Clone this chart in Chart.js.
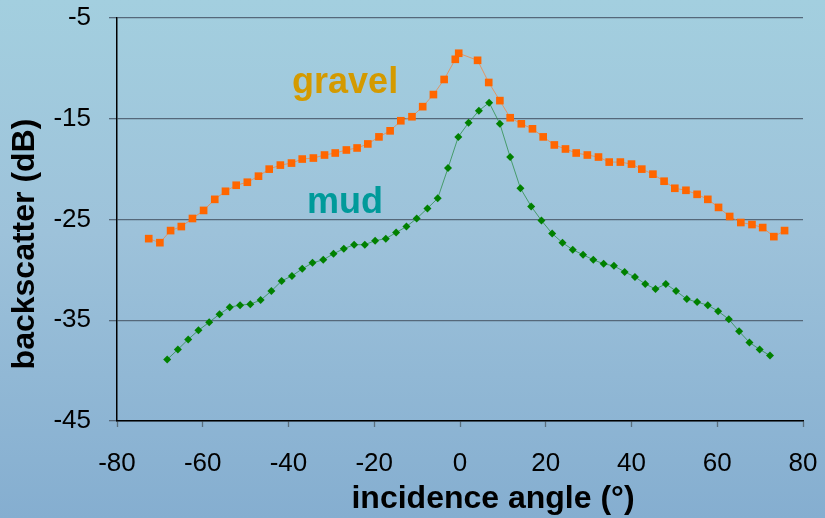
<!DOCTYPE html>
<html>
<head>
<meta charset="utf-8">
<script src="https://cdn.jsdelivr.net/npm/chart.js@4.4.1/dist/chart.umd.min.js"></script>
<style>
    html, body { margin: 0; padding: 0; background: #9fc4dc; }
    #wrap { width: 825px; height: 518px; position: relative; }
</style>
</head>
<body>
<div id="wrap"><canvas id="backscatterChart" width="825" height="518"></canvas></div>
<script>
// Data
const gravelAngle = [-72.6, -70.0, -67.5, -65.0, -62.4, -59.8, -57.2, -54.7, -52.2, -49.6,
    -47.0, -44.5, -41.9, -39.3, -36.8, -34.2, -31.6, -29.1, -26.5, -24.0,
    -21.5, -18.9, -16.3, -13.8, -11.2, -8.7, -6.2, -3.7, -1.1, -0.3,
    4.1, 6.7, 9.3, 11.7, 14.3, 16.9, 19.4, 22.0, 24.6, 27.1,
    29.7, 32.3, 34.8, 37.4, 40.0, 42.4, 45.0, 47.6, 50.1, 52.7,
    55.3, 57.8, 60.3, 62.9, 65.5, 68.1, 70.6, 73.2, 75.7];
const gravelDb = [-26.9, -27.3, -26.1, -25.7, -24.9, -24.1, -23.0, -22.2, -21.6, -21.3,
    -20.7, -20.0, -19.6, -19.4, -19.0, -18.9, -18.6, -18.4, -18.1, -17.9,
    -17.5, -16.8, -16.2, -15.2, -14.8, -13.8, -12.6, -11.1, -9.1, -8.5,
    -9.2, -11.4, -13.2, -14.9, -15.5, -16.0, -16.8, -17.6, -18.0, -18.4,
    -18.6, -18.8, -19.3, -19.3, -19.5, -20.0, -20.5, -21.2, -21.9, -22.1,
    -22.5, -23.0, -23.8, -24.7, -25.3, -25.5, -25.8, -26.7, -26.1];

const mudAngle = [-68.3, -65.8, -63.4, -61.0, -58.5, -56.1, -53.7, -51.3, -48.9, -46.5,
    -44.0, -41.6, -39.2, -36.8, -34.4, -31.9, -29.5, -27.1, -24.7, -22.2,
    -19.8, -17.3, -14.9, -12.5, -10.1, -7.6, -5.2, -2.8, -0.4, 2.0,
    4.4, 6.8, 9.3, 11.7, 14.1, 16.6, 19.0, 21.5, 23.9, 26.3,
    28.7, 31.1, 33.5, 35.9, 38.4, 40.8, 43.2, 45.6, 48.0, 50.4,
    52.9, 55.3, 57.8, 60.2, 62.7, 65.1, 67.5, 69.9, 72.3];
const mudDb = [-38.9, -37.9, -36.9, -36.0, -35.2, -34.4, -33.7, -33.5, -33.4, -33.0,
    -32.1, -31.1, -30.6, -29.9, -29.3, -29.0, -28.4, -27.9, -27.5, -27.5,
    -27.1, -26.9, -26.3, -25.7, -24.9, -23.9, -22.9, -19.9, -16.8, -15.4,
    -14.2, -13.4, -15.5, -18.8, -21.9, -23.7, -25.1, -26.4, -27.3, -28.0,
    -28.5, -29.0, -29.4, -29.6, -30.2, -30.7, -31.4, -31.9, -31.4, -32.1,
    -32.9, -33.2, -33.5, -34.1, -34.9, -36.1, -37.2, -37.9, -38.5];

const xTicks = [-80, -60, -40, -20, 0, 20, 40, 60, 80];
const yTicks = [-45, -35, -25, -15, -5];

// in-plot labels: text, angle, dB (baseline)
const seriesLabels = [
    { text: 'gravel', x: -26.8, y: -12.45, color: '#d49a00' },
    { text: 'mud', x: -26.8, y: -24.4, color: '#009a9a' }
];

const xTitle = 'incidence angle (°)';
const yTitle = 'backscatter (dB)';

const FONT = "'Liberation Sans', Arial, sans-serif";

function toPoints(xs, ys) {
    return xs.map((x, i) => ({ x: x, y: ys[i] }));
}

// Background wash, roughly the water picture behind the chart
const backgroundPlugin = {
    id: 'waterBackground',
    beforeDraw(chart) {
        const ctx = chart.ctx;
        const g = ctx.createLinearGradient(0, 0, 0, chart.height);
        g.addColorStop(0, '#a3cfdf');
        g.addColorStop(0.45, '#9dc2da');
        g.addColorStop(1, '#85aed0');
        ctx.save();
        ctx.fillStyle = g;
        ctx.fillRect(0, 0, chart.width, chart.height);
        ctx.restore();
    }
};

const labelPlugin = {
    id: 'seriesLabels',
    afterDatasetsDraw(chart) {
        const ctx = chart.ctx;
        const xs = chart.scales.x;
        const ys = chart.scales.y;
        ctx.save();
        ctx.font = 'bold 36px ' + FONT;
        ctx.textAlign = 'center';
        ctx.textBaseline = 'alphabetic';
        seriesLabels.forEach(l => {
            ctx.fillStyle = l.color;
            ctx.fillText(l.text, xs.getPixelForValue(l.x), ys.getPixelForValue(l.y));
        });
        ctx.restore();
    }
};

// Axis titles sit off-centre in the original, so draw them by hand
const axisTitlePlugin = {
    id: 'axisTitles',
    afterDraw(chart) {
        const ctx = chart.ctx;
        const area = chart.chartArea;
        ctx.save();
        ctx.fillStyle = '#000';
        ctx.font = 'bold 32px ' + FONT;
        ctx.textAlign = 'center';
        ctx.textBaseline = 'middle';
        ctx.fillText(xTitle, area.left + 376, chart.height - 19);
        ctx.translate(25, area.top + 226);
        ctx.rotate(-Math.PI / 2);
        ctx.fillText(yTitle, 0, 0);
        ctx.restore();
    }
};

const ctx = document.getElementById('backscatterChart').getContext('2d');
const chart = new Chart(ctx, {
    type: 'scatter',
    data: {
        datasets: [
            {
                label: 'mud',
                data: toPoints(mudAngle, mudDb),
                showLine: true,
                borderColor: 'rgba(40,140,70,0.75)',
                borderWidth: 1,
                pointStyle: 'rectRot',
                pointRadius: 4,
                pointBackgroundColor: '#008000',
                pointBorderColor: '#008000',
                pointBorderWidth: 0
            },
            {
                label: 'gravel',
                data: toPoints(gravelAngle, gravelDb),
                showLine: true,
                borderColor: 'rgba(235,140,80,0.85)',
                borderWidth: 1,
                pointStyle: 'rect',
                pointRadius: 5.4,
                pointBackgroundColor: '#ff6600',
                pointBorderColor: '#ff6600',
                pointBorderWidth: 0
            }
        ]
    },
    options: {
        responsive: false,
        animation: false,
        layout: { padding: { top: 18, right: 22, left: 0, bottom: 0 } },
        plugins: {
            legend: { display: false },
            tooltip: { enabled: false }
        },
        scales: {
            x: {
                type: 'linear',
                min: -80,
                max: 80,
                afterBuildTicks: s => { s.ticks = xTicks.map(v => ({ value: v })); },
                afterFit: s => {
                    s.height = 97;
                    s.paddingLeft = 0;
                    s.paddingRight = 0;
                },
                grid: {
                    drawOnChartArea: false,
                    drawTicks: true,
                    tickLength: 6,
                    tickColor: '#5a6e7c',
                    tickWidth: 1.3
                },
                border: { display: true, color: '#000', width: 1.5 },
                ticks: {
                    color: '#000',
                    padding: 21,
                    maxRotation: 0,
                    font: { family: FONT, size: 26 }
                },
                title: { display: false }
            },
            y: {
                type: 'linear',
                min: -45,
                max: -5,
                afterBuildTicks: s => { s.ticks = yTicks.map(v => ({ value: v })); },
                afterFit: s => {
                    s.width = 117;
                    s.paddingTop = 0;
                    s.paddingBottom = 0;
                },
                grid: {
                    color: '#55687a',
                    lineWidth: 1.3,
                    drawTicks: true,
                    tickLength: 8
                },
                border: { display: true, color: '#000', width: 1.5 },
                ticks: {
                    color: '#000',
                    padding: 18,
                    font: { family: FONT, size: 26 }
                },
                title: { display: false }
            }
        }
    },
    plugins: [backgroundPlugin, labelPlugin, axisTitlePlugin]
});
</script>
</body>
</html>
